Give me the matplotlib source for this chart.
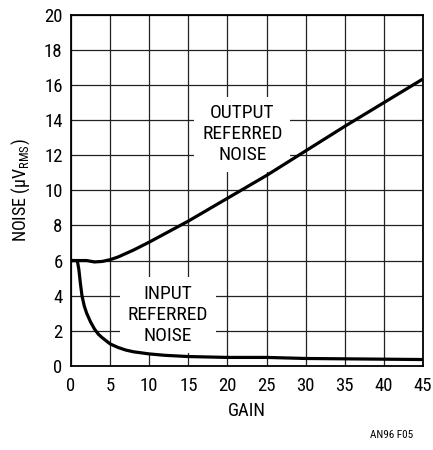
import matplotlib
matplotlib.use("Agg")
import matplotlib.pyplot as plt
from matplotlib.ticker import MultipleLocator
from matplotlib import font_manager

names = {f.name for f in font_manager.fontManager.ttflist}
fam = [n for n in ['Roboto Condensed', 'Liberation Sans Narrow', 'Open Sans Condensed', 'Roboto'] if n in names]
plt.rcParams['font.family'] = fam + ['DejaVu Sans']
plt.rcParams['mathtext.fontset'] = 'custom'
plt.rcParams['mathtext.rm'] = fam[0]
plt.rcParams['mathtext.it'] = fam[0]

# output referred noise (uV RMS) vs gain
out_gain = [0, 1, 2, 3, 4, 5, 6, 8, 10, 15, 20, 25, 30, 35, 40, 45]
out_noise = [6.0, 6.0, 6.0, 5.92, 5.95, 6.05, 6.2, 6.6, 7.05, 8.25, 9.55, 10.85, 12.25, 13.65, 15.0, 16.35]

# input referred noise
in_gain = [0, 0.8, 1.0, 1.2, 1.4, 1.7, 2, 2.5, 3, 3.5, 4, 5, 6, 7, 8, 10, 12, 15, 20, 25, 30, 35, 40, 45]
in_noise = [6.0, 6.0, 5.5, 4.7, 4.0, 3.4, 3.0, 2.5, 2.1, 1.8, 1.6, 1.25, 1.05, 0.9, 0.8, 0.68, 0.6, 0.53, 0.48, 0.48, 0.42, 0.4, 0.38, 0.36]

fig = plt.figure(figsize=(4.33, 4.5), dpi=100)
ax = fig.add_axes([0.164, 0.187, 0.813, 0.78])

ax.plot(out_gain, out_noise, color='black', lw=2.3, solid_capstyle='butt', zorder=3)
ax.plot(in_gain, in_noise, color='black', lw=2.3, solid_capstyle='butt', zorder=3)

ax.set_xlim(0, 45)
ax.set_ylim(0, 20)
ax.xaxis.set_major_locator(MultipleLocator(5))
ax.yaxis.set_major_locator(MultipleLocator(2))
ax.grid(True, color='#222222', lw=0.9)
ax.set_axisbelow(True)
for s in ax.spines.values():
    s.set_linewidth(1.3)
ax.tick_params(length=0, labelsize=13.5, pad=6)
ax.tick_params(axis='x', pad=8)

ax.set_xlabel('GAIN', fontsize=13.5, labelpad=5)
ax.set_ylabel(r'NOISE ($\mu$V$_{\mathregular{RMS}}$)', fontsize=13, labelpad=9)

box = dict(facecolor='white', edgecolor='none', boxstyle='square,pad=0.4')
ax.text(21.9, 13.2, 'OUTPUT\nREFERRED\nNOISE', ha='center', va='center',
        fontsize=14, linespacing=1.2, bbox=box, zorder=2)
ax.text(12.4, 2.9, 'INPUT\nREFERRED\nNOISE', ha='center', va='center',
        fontsize=14, linespacing=1.2, bbox=box, zorder=2)

fig.text(0.955, 0.033, 'AN96 F05', ha='right', va='center', fontsize=8)

fig.savefig('out.png', dpi=100)
